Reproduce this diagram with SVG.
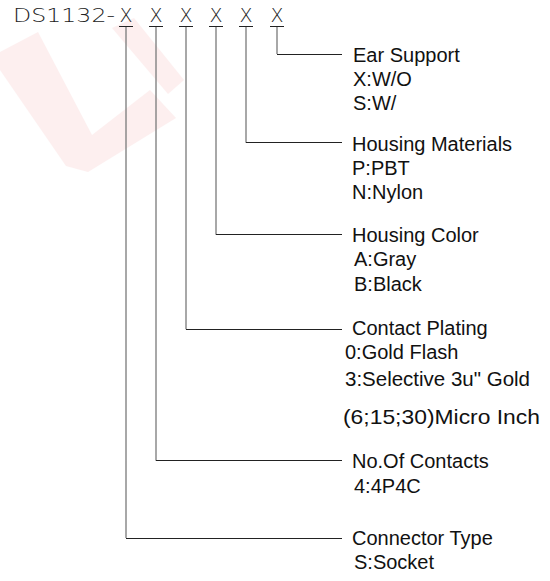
<svg xmlns="http://www.w3.org/2000/svg" width="550" height="581" viewBox="0 0 550 581">
<style>
.t{font-family:"Liberation Sans",Arial,sans-serif;font-size:20px;fill:#111}
.h{font-family:"DejaVu Sans",sans-serif;font-weight:200;font-size:19px;fill:#222}
.v{stroke:#7a7a7a;stroke-width:1.3;fill:none}
.hz{stroke:#222;stroke-width:1;fill:none}
</style>
<rect width="550" height="581" fill="#fff"/>
<g id="watermark" fill="#e53030" opacity="0.07">
<polygon points="0,52 38,32 92,135 150,90 176,118 88,172 66,166 0,70"/>
<polygon points="112,28 134,18 184,80 168,94"/>
</g>
<g id="title">
<text class="h" x="13" y="22" textLength="102" lengthAdjust="spacingAndGlyphs">DS1132-</text>
<text class="h" x="126" y="22" text-anchor="middle">X</text>
<text class="h" x="156" y="22" text-anchor="middle">X</text>
<text class="h" x="186" y="22" text-anchor="middle">X</text>
<text class="h" x="216" y="22" text-anchor="middle">X</text>
<text class="h" x="246" y="22" text-anchor="middle">X</text>
<text class="h" x="277" y="22" text-anchor="middle">X</text>
</g>
<g id="connectors">
<path class="hz" d="M119,26.5H133M149,26.5H163M179,26.5H193M209,26.5H223M239,26.5H253M270,26.5H284"/>
<path class="v" d="M126,27V538M156,27V460.7M186,27V329.3M216,27V234.7M246,27V142.7M277,27V54"/>
<path class="hz" d="M126,538.5H342M156,460.5H342M186,329.5H342M216,234.5H342M246,142.5H342M277,54.5H342"/>
</g>
<g id="ear-support">
<text class="t" x="353" y="62">Ear Support</text>
<text class="t" x="353" y="86">X:W/O</text>
<text class="t" x="353" y="110">S:W/</text>
</g>
<g id="housing-materials">
<text class="t" x="352" y="151">Housing Materials</text>
<text class="t" x="352" y="175">P:PBT</text>
<text class="t" x="352" y="199">N:Nylon</text>
</g>
<g id="housing-color">
<text class="t" x="352" y="242">Housing Color</text>
<text class="t" x="354" y="266">A:Gray</text>
<text class="t" x="354" y="291">B:Black</text>
</g>
<g id="contact-plating">
<text class="t" x="352" y="335">Contact Plating</text>
<text class="t" x="345" y="359">0:Gold Flash</text>
<text class="t" x="345" y="386" textLength="185" lengthAdjust="spacingAndGlyphs">3:Selective 3u" Gold</text>
<text class="t" x="343" y="424" style="font-size:21px" textLength="197" lengthAdjust="spacingAndGlyphs">(6;15;30)Micro Inch</text>
</g>
<g id="no-of-contacts">
<text class="t" x="352" y="468">No.Of Contacts</text>
<text class="t" x="354" y="493">4:4P4C</text>
</g>
<g id="connector-type">
<text class="t" x="352" y="545">Connector Type</text>
<text class="t" x="354" y="569">S:Socket</text>
</g>
</svg>
